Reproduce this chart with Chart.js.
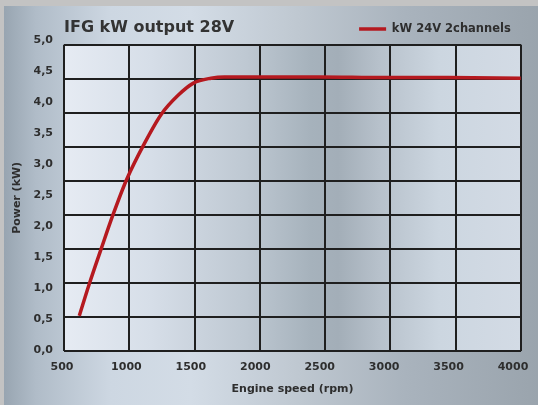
<!DOCTYPE html>
<html>
<head>
<meta charset="utf-8">
<script src="https://cdn.jsdelivr.net/npm/chart.js@4/dist/chart.umd.min.js"></script>
<style>
  html, body { margin: 0; padding: 0; background: #c3c3c3; }
  #wrap { width: 538px; height: 405px; position: relative; }
</style>
</head>
<body>
<div id="wrap"><canvas id="chartPower"></canvas></div>
<script>
'use strict';

// valeurs
const regimes = [634, 711, 804, 896, 1000, 1140, 1271, 1399, 1520, 1657, 1760, 2000, 2500, 3000, 3500, 4060];
const puissances = [0.55, 1.06, 1.63, 2.18, 2.74, 3.33, 3.80, 4.10, 4.30, 4.38, 4.40, 4.40, 4.40, 4.39, 4.39, 4.38];
const ticksRegime = [500, 1000, 1500, 2000, 2500, 3000, 3500, 4000];
const ticksPuissance = [0, 0.5, 1, 1.5, 2, 2.5, 3, 3.5, 4, 4.5, 5];
const nomSerie = 'kW 24V 2channels';

const POLICE = "'DejaVu Sans', sans-serif";
Chart.defaults.font.family = POLICE;
Chart.defaults.color = '#2e2e2e';

const GRILLE = '#1f1f1f';
const policeGras = (size) => ({ family: POLICE, size: size, weight: 'bold' });

/* fond métallisé + cadre gris */
const fondPlugin = {
    id: 'fond',
    beforeDraw(chart) {
        const ctx = chart.ctx;
        const w = chart.width, h = chart.height;
        const area = chart.chartArea;
        ctx.save();
        ctx.fillStyle = '#c3c3c3';
        ctx.fillRect(0, 0, w, h);

        let g = ctx.createLinearGradient(4, 0, w, 0);
        g.addColorStop(0, '#98a5b1');
        g.addColorStop(0.06, '#b0bcc8');
        g.addColorStop(0.2, '#cdd7e2');
        g.addColorStop(0.35, '#d3dce6');
        g.addColorStop(0.55, '#bfc8d1');
        g.addColorStop(0.75, '#a9b3bd');
        g.addColorStop(1, '#9aa4ad');
        ctx.fillStyle = g;
        ctx.fillRect(4, 6, w - 4, h - 6);

        g = ctx.createLinearGradient(area.left, 0, area.right, 0);
        g.addColorStop(0, '#e6ebf3');
        g.addColorStop(0.19, '#d6dee8');
        g.addColorStop(0.4, '#bec8d2');
        g.addColorStop(0.54, '#a6b2bc');
        g.addColorStop(0.6, '#a3aeb8');
        g.addColorStop(0.69, '#b7c1cb');
        g.addColorStop(0.82, '#ccd6e0');
        g.addColorStop(1, '#d3dbe5');
        ctx.fillStyle = g;
        ctx.fillRect(area.left, area.top, area.right - area.left, area.bottom - area.top);
        ctx.restore();
    }
};

new Chart(document.getElementById('chartPower'), {
    type: 'line',
    data: {
        datasets: [{
            label: nomSerie,
            data: regimes.map((r, i) => ({ x: r, y: puissances[i] })),
            borderColor: '#b5191f',
            backgroundColor: '#b5191f',
            borderWidth: 3.5,
            pointRadius: 0,
            cubicInterpolationMode: 'monotone',
            xAxisID: 'x',
            yAxisID: 'y'
        }]
    },
    options: {
        responsive: true,
        maintainAspectRatio: false,
        animation: false,
        layout: { padding: { left: 4, top: 6, right: 15, bottom: 4 } },
        scales: {
            // axes de la grille (lignes aux bords comprises)
            x2: {
                type: 'linear',
                position: 'bottom',
                min: 0,
                max: 7,
                ticks: { display: false, stepSize: 1 },
                grid: { color: GRILLE, lineWidth: 2, drawTicks: false },
                border: { display: false },
                afterFit: (s) => { s.height = 0; }
            },
            y2: {
                type: 'linear',
                position: 'left',
                min: 0,
                max: 9,
                ticks: { display: false, stepSize: 1 },
                grid: { color: GRILLE, lineWidth: 2, drawTicks: false },
                border: { display: false },
                afterFit: (s) => { s.width = 0; }
            },
            // axes des étiquettes (décalées de la grille comme sur l'original)
            x: {
                type: 'linear',
                position: 'bottom',
                min: 515.5,
                max: 4062.7,
                grid: { display: false, drawTicks: false },
                border: { display: false },
                afterBuildTicks: (s) => { s.ticks = ticksRegime.map(v => ({ value: v })); },
                afterFit: (s) => { s.height = 50; },
                ticks: {
                    autoSkip: false,
                    maxRotation: 0,
                    padding: 9.4,
                    font: policeGras(11),
                    color: '#2e2e2e',
                    callback: (v) => String(v)
                },
                title: {
                    display: true,
                    text: 'Engine speed (rpm)',
                    font: policeGras(11),
                    color: '#2e2e2e',
                    padding: { top: 7, bottom: 5.4 }
                }
            },
            y: {
                type: 'linear',
                position: 'left',
                min: -0.016,
                max: 4.919,
                grid: { display: false, drawTicks: false },
                border: { display: false },
                afterBuildTicks: (s) => { s.ticks = ticksPuissance.map(v => ({ value: v })); },
                afterFit: (s) => { s.width = 60; },
                ticks: {
                    autoSkip: false,
                    padding: 11,
                    font: policeGras(11),
                    color: '#2e2e2e',
                    callback: (v) => Number(v).toFixed(1).replace('.', ',')
                },
                title: {
                    display: true,
                    text: 'Power (kW)',
                    font: policeGras(11),
                    color: '#2e2e2e',
                    padding: { top: 6.4, bottom: 0 }
                }
            }
        },
        plugins: {
            title: {
                display: true,
                text: 'IFG kW output 28V',
                align: 'start',
                fullSize: false,
                color: '#333333',
                font: policeGras(16),
                padding: { top: 12, bottom: -24.2 }
            },
            legend: {
                display: true,
                position: 'top',
                align: 'end',
                fullSize: false,
                labels: {
                    usePointStyle: true,
                    pointStyle: 'line',
                    pointStyleWidth: 27,
                    padding: 10.25,
                    color: '#2e2e2e',
                    font: policeGras(11.5)
                }
            },
            tooltip: { enabled: false }
        }
    },
    plugins: [fondPlugin]
});
</script>
</body>
</html>
